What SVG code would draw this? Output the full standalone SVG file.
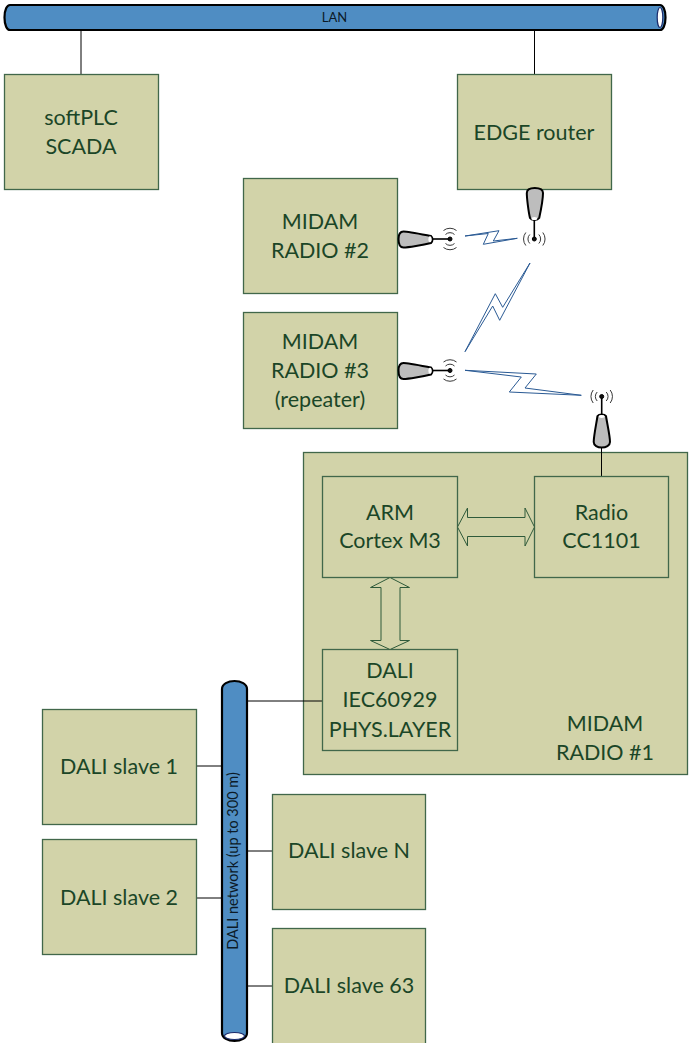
<svg xmlns="http://www.w3.org/2000/svg" width="689" height="1043" viewBox="0 0 689 1043">
<style>
.box{fill:#d2d3a9;stroke:#41674a;stroke-width:1.3}
.t{font-family:"Lato","Carlito","Liberation Sans",sans-serif;font-size:21.5px;fill:#1b4627;text-anchor:middle}
.pipe{fill:#4f8dc3;stroke:#000;stroke-width:2.2}
.hole{fill:#fff;stroke:#1a2a6a;stroke-width:1.2}
.pt{font-family:"Lato","Carlito","Liberation Sans",sans-serif;font-size:13px;fill:#0c1a26;text-anchor:middle}
.pv{font-size:14.5px}
.c{stroke:#000;stroke-width:1;fill:none}
.bolt{fill:#fff;stroke:#2a5a94;stroke-width:1}
.arr{fill:#d2d3a9;stroke:#2f5a3a;stroke-width:1}
.ant{fill:#bdbdbd;stroke:#000;stroke-width:2;stroke-linejoin:round}
.stem{stroke:#000;stroke-width:1.6;fill:none}
.dot{fill:#111;stroke:#000;stroke-width:1}
.w{stroke:#222;stroke-width:.9;fill:none}
</style>
<defs>
<g id="waves">
<circle class="dot" r="2"/>
<path class="w" d="M-4.500-4.500A6.400 6.400 0 0 1 4.500-4.500M-4.500 4.500A6.400 6.400 0 0 0 4.500 4.500M-6.500-8.500A10.500 10.500 0 0 1 6.500-8.500M-6.500 8.500A10.500 10.500 0 0 0 6.500 8.500"/>
</g>
<g id="wavesV">
<circle class="dot" r="2"/>
<path class="w" d="M-4.500-4.500A6.400 6.400 0 0 0-4.500 4.500M4.500-4.500A6.400 6.400 0 0 1 4.500 4.500M-8.500-6.500A10.500 10.500 0 0 0-8.500 6.500M8.500-6.500A10.500 10.500 0 0 1 8.500 6.500"/>
</g>
</defs>

<g id="radio1">
<rect class="box" x="303.500" y="452.500" width="384" height="322"/>
<text class="t" x="605" y="731">MIDAM</text><text class="t" x="605" y="760">RADIO #1</text>
</g>

<g id="connectors">
<path class="c" d="M81 30V75M534.500 30V75M601.500 396V477M247 701H323M196 766H222M196 898H222M247 851H272M247 986H272"/>
<path class="bolt" d="M465 236L499 230.700L493.300 241L517.300 238.300L483.300 244.300L488.300 233.500Z"/>
<path class="bolt" d="M530 263L499.700 320.300L492.700 306L465 351.700L495.300 293.700L502.700 307.300Z"/>
<path class="bolt" d="M465 370.300L536.300 374L525 388L581.300 395.300L509.300 392L521.300 377Z"/>
</g>

<g id="lan">
<path class="pipe" d="M10 5H660C663 5 665.500 9.500 665.500 17.500C665.500 25.500 663 30 660 30H10C7 30 4.500 25.500 4.500 17.500C4.500 9.500 7 5 10 5Z"/>
<ellipse class="hole" cx="660" cy="17.500" rx="2.800" ry="10"/>
<text class="pt" x="334.500" y="21.500">LAN</text>
</g>

<g id="softplc">
<rect class="box" x="4.500" y="74.500" width="154" height="115"/>
<text class="t" x="81" y="124.500">softPLC</text><text class="t" x="81" y="153.500">SCADA</text>
</g>
<g id="edge-router">
<rect class="box" x="457.500" y="74.500" width="154" height="115"/>
<text class="t" x="534" y="139.500">EDGE router</text>
</g>
<g id="radio2">
<rect class="box" x="243.500" y="178.500" width="154" height="115"/>
<text class="t" x="320" y="229">MIDAM</text><text class="t" x="320" y="258">RADIO #2</text>
</g>
<g id="radio3">
<rect class="box" x="243.500" y="312.500" width="154" height="116"/>
<text class="t" x="320" y="349">MIDAM</text><text class="t" x="320" y="378">RADIO #3</text><text class="t" x="320" y="407">(repeater)</text>
</g>

<g id="antenna-edge">
<path class="stem" d="M534.300 218V239"/>
<path class="ant" d="M534.800 188C540 188 543 189.500 543 193C543 198 540.500 212 539.200 218C537.500 220.500 531.500 220.500 530 218C528.500 212 526.800 198 526.800 193C526.800 189.500 530 188 534.800 188Z"/>
<ellipse cx="534.300" cy="218.500" rx="3" ry="1.600" fill="#fff"/>
<use href="#wavesV" x="534.300" y="239"/>
</g>
<g id="antenna-radio2">
<path class="stem" d="M430 239H450"/>
<path class="ant" d="M398.500 239C398.500 234 400 231.500 403.500 231.500C408 231.500 423 234.500 431 236C433 238 433 241 431 243C423 245 408 247.500 403.500 247.500C400 247.500 398.500 244 398.500 239Z"/>
<ellipse cx="430" cy="239.300" rx="1.600" ry="3" fill="#fff"/>
<use href="#waves" x="450" y="239"/>
</g>
<g id="antenna-radio3">
<path class="stem" d="M430 370.500H450"/>
<path class="ant" d="M398.500 370.500C398.500 365.500 400 363 403.500 363C408 363 423 366 431 367.500C433 369.500 433 372.500 431 374.500C423 376.500 408 379 403.500 379C400 379 398.500 375.500 398.500 370.500Z"/>
<ellipse cx="430" cy="370.800" rx="1.600" ry="3" fill="#fff"/>
<use href="#waves" x="450" y="370.500"/>
</g>
<g id="antenna-radio1">
<path class="stem" d="M601.700 396V416"/>
<path class="ant" d="M597.500 416C599 414 604.500 414 606 416C607 423 610 436 610 442C610 445.500 606 447.500 601.700 447.500C597.500 447.500 593.700 445.500 593.700 442C593.700 436 596.500 423 597.500 416Z"/>
<ellipse cx="601.700" cy="416.500" rx="3" ry="1.400" fill="#fff"/>
<use href="#wavesV" x="601.700" y="396.500"/>
</g>

<g id="arm">
<rect class="box" x="322.500" y="476.500" width="135" height="101"/>
<text class="t" x="390" y="520">ARM</text><text class="t" x="390" y="548">Cortex M3</text>
</g>
<g id="cc1101">
<rect class="box" x="534.500" y="476.500" width="134" height="101"/>
<text class="t" x="601.500" y="520">Radio</text><text class="t" x="601.500" y="548">CC1101</text>
</g>
<g id="dali-phy">
<rect class="box" x="322.500" y="649.500" width="135" height="101"/>
<text class="t" x="390" y="678">DALI</text><text class="t" x="390" y="707">IEC60929</text><text class="t" x="390" y="737">PHYS.LAYER</text>
</g>
<g id="arrows">
<path class="arr" d="M457.500 527L467.500 508V517.500H525V508L534.500 527L525 546V536.500H467.500V546Z"/>
<path class="arr" d="M390 577.500L409.500 587.500H400V640.500H409.500L390 649.500L370.500 640.500H381V587.500H370.500Z"/>
</g>

<g id="dali-network">
<path class="pipe" d="M222 689C222 684 228 681 234.500 681C241 681 247 684 247 689V1033C247 1038 241 1041 234.500 1041C228 1041 222 1038 222 1033Z"/>
<ellipse class="hole" cx="234.500" cy="1036" rx="10" ry="3.500"/>
<text class="pt pv" transform="translate(238 861) rotate(-90)">DALI network (up to 300 m)</text>
</g>
<g id="slave1">
<rect class="box" x="42.500" y="709.500" width="154" height="115"/>
<text class="t" x="119" y="774">DALI slave 1</text>
</g>
<g id="slave2">
<rect class="box" x="42.500" y="839.500" width="154" height="115"/>
<text class="t" x="119" y="905">DALI slave 2</text>
</g>
<g id="slaveN">
<rect class="box" x="272.500" y="794.500" width="153" height="115"/>
<text class="t" x="349" y="858">DALI slave N</text>
</g>
<g id="slave63">
<rect class="box" x="272.500" y="928.500" width="153" height="116"/>
<text class="t" x="349" y="993">DALI slave 63</text>
</g>
</svg>
